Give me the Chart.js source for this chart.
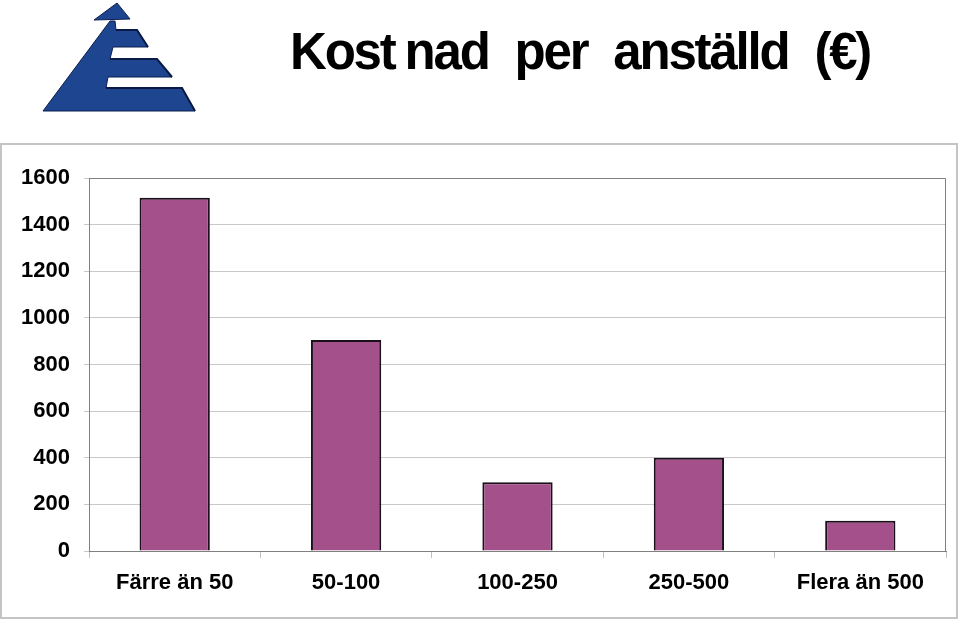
<!DOCTYPE html>
<html>
<head>
<meta charset="utf-8">
<script src="https://cdn.jsdelivr.net/npm/chart.js@4/dist/chart.umd.min.js"></script>
<style>
    body { margin: 0; width: 960px; height: 620px; background: #fff; position: relative; overflow: hidden; font-family: "Liberation Sans", Arial, sans-serif; }
    #logo { position: absolute; left: 0; top: 0; }
    #title { position: absolute; left: 290px; top: 26px; font-size: 51px; line-height: 51px; font-weight: bold; color: #000;
             letter-spacing: -2.2px; word-spacing: 14px; white-space: nowrap; }
    #title .gap { margin-left: 10px; }
    #frame { position: absolute; left: 0; top: 143px; width: 958px; height: 476px; border: 2px solid #c4c4c4; box-sizing: border-box; }
    #chart { display: block; }
</style>
</head>
<body>

<svg id="logo" width="210" height="120">
    <polygon points="94,20 130,19 117,3" fill="#1e4590" stroke="#0b1f4f" stroke-width="1"/>
    <polygon points="43,111 110,21 115,21 116,30 137,30 148,47 113,47 110,59 157,59 172,77 108,77 106,88 182,88 195,111"
             fill="#1e4590" stroke="#0b1f4f" stroke-width="1"/>
    <polyline points="116,30 137,30 148,47" fill="none" stroke="#0a1a45" stroke-width="2"/>
    <polyline points="110,59 157,59 172,77" fill="none" stroke="#0a1a45" stroke-width="2"/>
    <polyline points="106,88 182,88 195,111" fill="none" stroke="#0a1a45" stroke-width="2"/>
</svg>

<div id="title">Kost<span class="gap">nad</span> per anställd (€)</div>

<div id="frame"><canvas id="chart" width="954" height="472"></canvas></div>

<script>
// ==========================================
// DATA
// ==========================================
const categories = ['Färre än 50', '50-100', '100-250', '250-500', 'Flera än 500'];
const costValues = [1515, 905, 295, 400, 130];
const yMin = 0;
const yMax = 1600;
const yStep = 200;

// ram runt ritytan (topp + höger)
const plotBorder = {
    id: 'plotBorder',
    afterDraw(chart) {
        const { ctx, chartArea: a } = chart;
        ctx.save();
        ctx.strokeStyle = '#808080';
        ctx.lineWidth = 1;
        ctx.beginPath();
        ctx.moveTo(a.left, a.top + 0.5);
        ctx.lineTo(a.right - 0.5, a.top + 0.5);
        ctx.lineTo(a.right - 0.5, a.bottom);
        ctx.stroke();
        ctx.restore();
    }
};

const font = { family: '"Liberation Sans", Arial, sans-serif', size: 22, weight: 'bold' };

new Chart(document.getElementById('chart'), {
    type: 'bar',
    data: {
        labels: categories,
        datasets: [{
            data: costValues,
            backgroundColor: '#a4508b',
            borderColor: '#1a0f1a',
            borderWidth: 2,
            barPercentage: 0.41,
            categoryPercentage: 1
        }]
    },
    options: {
        responsive: false,
        animation: false,
        layout: { padding: { left: 0, top: 33, right: 10, bottom: 0 } },
        plugins: { legend: { display: false }, tooltip: { enabled: false } },
        scales: {
            x: {
                afterFit: s => { s.height = 66; },
                grid: { offset: true, drawOnChartArea: false, drawTicks: true, tickLength: 7, tickColor: '#c0c0c0' },
                border: { display: true, color: '#808080', width: 1 },
                ticks: { color: '#000', font, padding: 12, maxRotation: 0 }
            },
            y: {
                min: yMin,
                max: yMax,
                afterFit: s => { s.width = 87; },
                grid: { color: '#c8c8c8', lineWidth: 1, tickLength: 5, tickColor: '#c8c8c8' },
                border: { display: true, color: '#808080', width: 1 },
                ticks: { stepSize: yStep, color: '#000', font, padding: 14, callback: v => String(v) }
            }
        }
    },
    plugins: [plotBorder]
});
</script>
</body>
</html>
